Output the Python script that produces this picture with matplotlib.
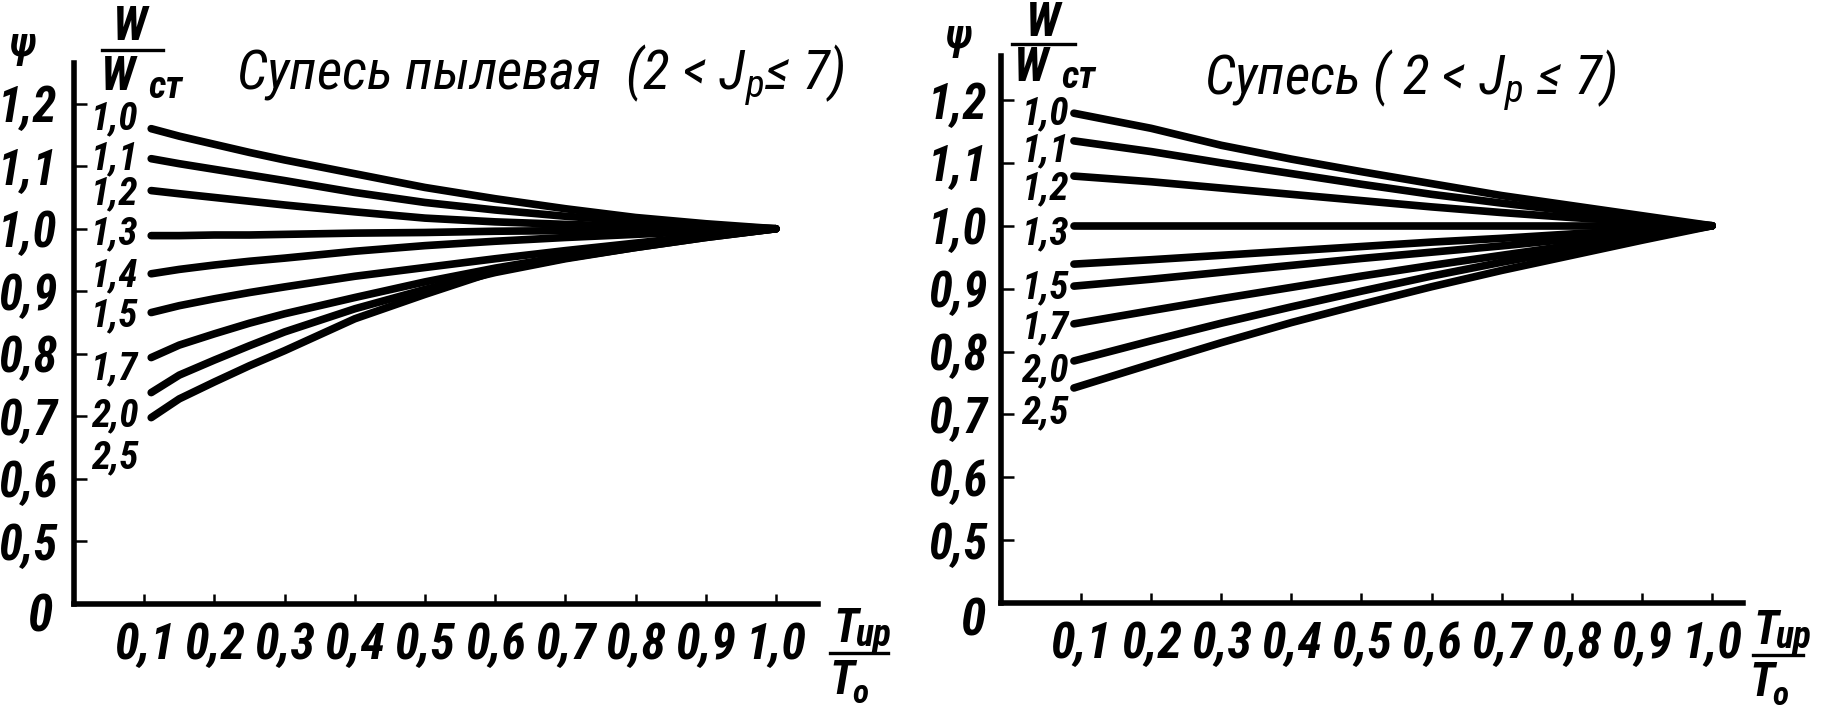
import matplotlib.pyplot as plt
from matplotlib import font_manager
from matplotlib.lines import Line2D


def have(name):
    try:
        font_manager.findfont(name, fallback_to_default=False)
        return True
    except ValueError:
        return False


# narrow italic lettering, as in the scanned original
if have('Roboto Condensed'):
    FONT, K = 'Roboto Condensed', 1.0
elif have('Liberation Sans Narrow'):
    FONT, K = 'Liberation Sans Narrow', 1.0
else:
    FONT, K = 'Roboto', 0.86

plt.rcParams['font.family'] = [FONT, 'DejaVu Sans']
plt.rcParams['font.style'] = 'italic'
plt.rcParams['mathtext.fontset'] = 'custom'
plt.rcParams['mathtext.it'] = FONT + ':italic'
plt.rcParams['mathtext.rm'] = FONT

W, H = 1822, 715

# ---- data ----
ratio_labels_left = ['1,0', '1,1', '1,2', '1,3', '1,4', '1,5', '1,7', '2,0', '2,5']
x_left = [0.11, 0.15, 0.2, 0.25, 0.3, 0.4, 0.5, 0.6, 0.7, 0.8, 0.9, 1.0]
psi_left = [
    [1.160, 1.148, 1.135, 1.122, 1.110, 1.088, 1.066, 1.048, 1.032, 1.018, 1.008, 1.0],
    [1.112, 1.104, 1.095, 1.086, 1.077, 1.058, 1.042, 1.030, 1.020, 1.012, 1.005, 1.0],
    [1.061, 1.056, 1.050, 1.044, 1.038, 1.027, 1.017, 1.011, 1.007, 1.004, 1.002, 1.0],
    [0.989, 0.989, 0.990, 0.990, 0.991, 0.993, 0.994, 0.996, 0.997, 0.998, 0.999, 1.0],
    [0.928, 0.935, 0.942, 0.948, 0.953, 0.964, 0.973, 0.980, 0.986, 0.991, 0.996, 1.0],
    [0.866, 0.877, 0.888, 0.898, 0.907, 0.924, 0.938, 0.952, 0.965, 0.977, 0.989, 1.0],
    [0.794, 0.814, 0.832, 0.849, 0.864, 0.890, 0.915, 0.937, 0.956, 0.972, 0.987, 1.0],
    [0.738, 0.766, 0.790, 0.813, 0.835, 0.872, 0.903, 0.930, 0.952, 0.970, 0.986, 1.0],
    [0.698, 0.728, 0.755, 0.781, 0.805, 0.856, 0.895, 0.932, 0.953, 0.970, 0.986, 1.0],
]
label_y_left = [1.176, 1.112, 1.056, 0.992, 0.925, 0.861, 0.776, 0.701, 0.634]

ratio_labels_right = ['1,0', '1,1', '1,2', '1,3', '', '1,5', '1,7', '2,0', '2,5']
x_right = [0.09, 0.2, 0.3, 0.4, 0.5, 0.6, 0.7, 0.8, 0.9, 1.0]
psi_right = [
    [1.179, 1.155, 1.128, 1.106, 1.086, 1.067, 1.048, 1.032, 1.016, 1.0],
    [1.135, 1.118, 1.100, 1.083, 1.066, 1.050, 1.036, 1.023, 1.011, 1.0],
    [1.079, 1.070, 1.060, 1.050, 1.040, 1.030, 1.021, 1.013, 1.006, 1.0],
    [1.000, 1.000, 1.000, 1.000, 1.000, 1.000, 1.000, 1.000, 1.000, 1.0],
    [0.939, 0.946, 0.953, 0.960, 0.967, 0.974, 0.980, 0.987, 0.993, 1.0],
    [0.904, 0.915, 0.926, 0.937, 0.948, 0.958, 0.968, 0.979, 0.989, 1.0],
    [0.844, 0.865, 0.884, 0.902, 0.920, 0.937, 0.953, 0.969, 0.985, 1.0],
    [0.785, 0.817, 0.845, 0.871, 0.896, 0.920, 0.942, 0.962, 0.981, 1.0],
    [0.742, 0.780, 0.814, 0.846, 0.875, 0.903, 0.929, 0.953, 0.977, 1.0],
]
label_y_right = [1.178, 1.119, 1.058, 0.987, None, 0.901, 0.838, 0.769, 0.702]

x_ticks = [0.1, 0.2, 0.3, 0.4, 0.5, 0.6, 0.7, 0.8, 0.9, 1.0]
x_ticklabels = ['0,1', '0,2', '0,3', '0,4', '0,5', '0,6', '0,7', '0,8', '0,9', '1,0']
y_ticks = [0.5, 0.6, 0.7, 0.8, 0.9, 1.0, 1.1, 1.2]
y_ticklabels = ['0,5', '0,6', '0,7', '0,8', '0,9', '1,0', '1,1', '1,2']

fig = plt.figure(figsize=(W / 100, H / 100), dpi=100)


def axes_px(x0, y0, x1, y1):
    return fig.add_axes([x0 / W, 1 - y1 / H, (x1 - x0) / W, (y1 - y0) / H])


def put(x, y, s, size, **kw):
    fig.text(x / W, 1 - y / H, s, fontsize=size * K, ha='center', va='center', **kw)


def hline(x0, x1, y, lw=2.4):
    fig.add_artist(Line2D([x0 / W, x1 / W], [1 - y / H, 1 - y / H], color='black', lw=lw))


def setup(ax, xlim, ylim, ypad):
    ax.set_xlim(*xlim)
    ax.set_ylim(*ylim)
    for s in ['top', 'right']:
        ax.spines[s].set_visible(False)
    for s in ['left', 'bottom']:
        ax.spines[s].set_linewidth(4)
    ax.set_xticks(x_ticks)
    ax.set_xticklabels(x_ticklabels, fontweight='bold')
    ax.set_yticks(y_ticks)
    ax.set_yticklabels(y_ticklabels, fontweight='bold')
    ax.tick_params(axis='x', direction='in', length=7, width=1.8, pad=13, labelsize=36 * K)
    ax.tick_params(axis='y', direction='in', length=9, width=1.8, pad=ypad, labelsize=35 * K)
    ax.patch.set_alpha(0)


# left panel
axL = axes_px(74, 63, 818, 604)
setup(axL, (0, 1.06), (0.4, 1.265), 12)
for ys in psi_left:
    axL.plot(x_left, ys, color='black', lw=5.5, solid_capstyle='round')
for lab, ly in zip(ratio_labels_left, label_y_left):
    axL.text(0.058, ly, lab, fontsize=28 * K, fontweight='bold',
             ha='center', va='center', clip_on=False)

# right panel
axR = axes_px(1001, 56, 1743, 603)
setup(axR, (-0.014, 1.044), (0.4, 1.27), 10)
for ys in psi_right:
    axR.plot(x_right, ys, color='black', lw=5.5, solid_capstyle='round')
for lab, ly in zip(ratio_labels_right, label_y_right):
    if lab:
        axR.text(0.049, ly, lab, fontsize=28 * K, fontweight='bold',
                 ha='center', va='center', clip_on=False)

# zero labels of the broken axes
put(40, 617, '0', 37, fontweight='bold')
put(973, 622, '0', 37, fontweight='bold')

# titles
put(540, 75, 'Супесь пылевая  (2 < J$_p$≤ 7)', 40)
put(1410, 80, 'Супесь ( 2 < J$_p$ ≤ 7)', 40)

# psi and W/Wст
put(23, 45, 'ψ', 30, fontweight='bold')
put(959, 37, 'ψ', 30, fontweight='bold')
for cx, ny, ly, dy, lx0, lx1 in [(130, 27, 50, 77, 102, 163), (1043, 23, 44, 68, 1012, 1075)]:
    put(cx, ny, 'W', 34, fontweight='bold')
    hline(lx0, lx1, ly)
    put(cx - 12, dy, 'W', 34, fontweight='bold')
    put(cx + 36, dy + 10, 'ст', 28, fontweight='bold')

# Tup / To
for tx, ly, lx0, lx1 in [(846, 653, 830, 888), (1766, 655, 1753, 1803)]:
    put(tx, ly - 24, 'T', 34, fontweight='bold')
    put(tx + 27, ly - 17, 'up', 27, fontweight='bold')
    hline(lx0, lx1, ly)
    put(tx - 4, ly + 28, 'T', 34, fontweight='bold')
    put(tx + 14, ly + 41, 'o', 24, fontweight='bold')

fig.savefig('out.png', dpi=100)
